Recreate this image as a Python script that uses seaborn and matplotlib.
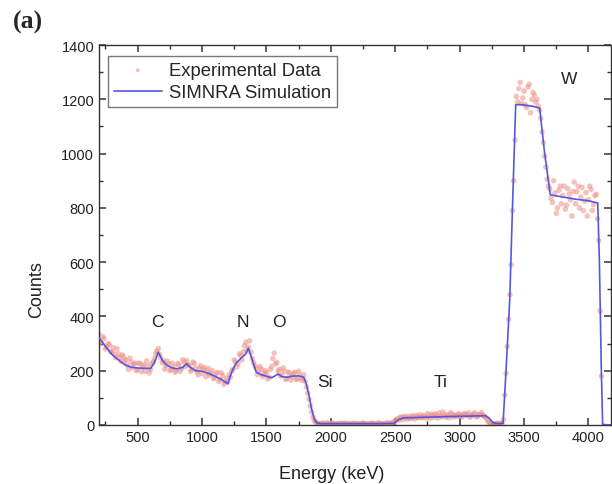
import numpy as np
import pandas as pd
import matplotlib
matplotlib.use("Agg")
import matplotlib.pyplot as plt
import seaborn as sns
from matplotlib.ticker import MultipleLocator

# ---------------- data ----------------
# experimental spectrum, even channels (200, 220, ... 4100 keV)
exp_energy_a = np.arange(200, 4101, 20)
exp_counts_a = [
    335, 300, 318, 286, 296,
    270, 262, 281, 248, 258,
    235, 220, 246, 212, 228,
    205, 226, 214, 198, 218,
    204, 232, 262, 282, 248,
    236, 218, 226, 205, 214,
    200, 222, 208, 232, 238,
    220, 205, 226, 196, 210,
    190, 212, 196, 184, 200,
    176, 194, 168, 182, 160,
    158, 175, 205, 232, 226,
    256, 270, 305, 286, 268,
    230, 210, 196, 206, 188,
    192, 176, 215, 265, 230,
    205, 185, 198, 172, 190,
    178, 194, 170, 185, 172,
    160, 118, 70, 30, 12,
    6, 4, 7, 3, 5,
    4, 6, 3, 5, 7,
    5, 3, 6, 4, 5,
    6, 4, 5, 3, 6,
    4, 7, 5, 3, 6,
    5, 4, 8, 6, 10,
    15, 24, 30, 20, 27,
    32, 24, 29, 35, 26,
    30, 36, 25, 33, 40,
    28, 35, 45, 30, 38,
    33, 27, 40, 36, 31,
    38, 30, 42, 35, 29,
    37, 44, 32, 39, 35,
    30, 14, 6, 4, 5,
    4, 6, 20, 190, 390,
    590, 900, 1210, 1240, 1185,
    1230, 1170, 1255, 1200, 1215,
    1200, 1160, 1080, 990, 905,
    870, 820, 855, 800, 880,
    845, 795, 870, 830, 860,
    815, 880, 840, 790, 856,
    830, 868, 812, 850, 680,
    180,
]
# experimental spectrum, odd channels (210, 230, ... 4090 keV)
exp_energy_b = np.arange(210, 4091, 20)
exp_counts_b = [
    305, 326, 280, 300, 270,
    285, 248, 262, 235, 252,
    240, 205, 232, 225, 200,
    228, 196, 222, 236, 192,
    225, 245, 272, 260, 230,
    205, 235, 200, 228, 195,
    226, 198, 240, 215, 222,
    198, 232, 208, 185, 218,
    205, 178, 208, 190, 170,
    188, 160, 192, 150, 172,
    185, 198, 240, 215, 262,
    240, 292, 275, 310, 245,
    218, 186, 215, 178, 200,
    170, 205, 245, 225, 198,
    180, 210, 168, 195, 165,
    190, 168, 198, 165, 185,
    140, 95, 48, 18, 8,
    3, 6, 4, 8, 2,
    6, 2, 5, 4, 3,
    7, 4, 2, 6, 3,
    3, 5, 7, 4, 2,
    6, 3, 4, 8, 5,
    3, 7, 5, 4, 8,
    20, 18, 27, 32, 22,
    25, 34, 22, 30, 38,
    27, 31, 42, 24, 35,
    41, 26, 33, 48, 29,
    38, 45, 29, 34, 42,
    31, 40, 36, 45, 33,
    42, 30, 38, 46, 33,
    24, 9, 5, 3, 6,
    5, 6, 110, 290, 480,
    790, 1050, 1190, 1262, 1205,
    1180, 1245, 1150, 1225, 1190,
    1175, 1130, 1040, 950, 880,
    835, 900, 780, 865, 815,
    880, 810, 850, 770, 895,
    860, 800, 875, 825, 770,
    880, 790, 845, 760, 420,
]

sim_energy = [200, 250, 300, 350, 400, 450, 500, 550, 600, 630, 660, 690, 720,
              760, 800, 850, 880, 910, 950, 1000, 1050, 1100, 1150, 1200, 1230,
              1260, 1300, 1340, 1360, 1390, 1420, 1460, 1500, 1540, 1570, 1590,
              1620, 1660, 1700, 1750, 1790, 1810, 1830, 1850, 1870, 1890, 1920,
              2000, 2200, 2400, 2490, 2520, 2560, 2700, 2900, 3100, 3200, 3230,
              3260, 3300, 3337, 3360, 3389, 3410, 3435, 3480, 3560, 3621, 3660,
              3704, 3800, 3900, 4000, 4072, 4085, 4100, 4110, 4175]
sim_counts = [322, 290, 260, 240, 222, 213, 210, 209, 208, 230, 268, 240, 222,
              212, 207, 212, 226, 212, 200, 198, 190, 180, 168, 152, 195,
              225, 245, 262, 283, 240, 195, 185, 180, 174, 182, 188,
              178, 176, 180, 181, 176, 150, 110, 60, 25, 8, 5,
              5, 5, 5, 6, 18, 26, 28, 31, 33, 34, 25,
              8, 5, 6, 200, 464, 800, 1180, 1180, 1175, 1168, 1000,
              848, 840, 832, 826, 818, 600, 200, 2, 0]

labels_text = ["C", "N", "O", "Si", "Ti", "W"]
labels_x = [650, 1317, 1596, 1953, 2853, 3846]
labels_y = [380, 380, 380, 162, 162, 1275]

exp_df = pd.DataFrame({
    "Energy": np.concatenate([exp_energy_a, exp_energy_b]),
    "Counts": exp_counts_a + exp_counts_b,
})
sim_df = pd.DataFrame({"Energy": sim_energy, "Counts": sim_counts})

# ---------------- style ----------------
sns.set_style("ticks")
plt.rcParams["font.family"] = ["Liberation Sans", "DejaVu Sans"]

fig = plt.figure(figsize=(6.12, 4.85), dpi=100)
ax = fig.add_axes([99 / 612, 1 - 426 / 485, (611 - 99) / 612, (426 - 46) / 485])

sns.scatterplot(data=exp_df, x="Energy", y="Counts", ax=ax, color="#eb8f84",
                s=16, alpha=0.55, edgecolor="none", label="Experimental Data",
                zorder=2)
sns.lineplot(data=sim_df, x="Energy", y="Counts", ax=ax, color="#5656e4",
             linewidth=1.2, label="SIMNRA Simulation", zorder=3)

ax.set_xlim(200, 4175)
ax.set_ylim(0, 1400)
ax.xaxis.set_major_locator(MultipleLocator(500))
ax.xaxis.set_minor_locator(MultipleLocator(250))
ax.yaxis.set_major_locator(MultipleLocator(200))
ax.yaxis.set_minor_locator(MultipleLocator(100))
ax.tick_params(which="both", direction="in", top=True, right=True,
               color="#333333", labelsize=10.5, labelcolor="#222222")
ax.tick_params(which="major", length=5, width=1.1)
ax.tick_params(which="minor", length=3, width=1.0)
for sp in ax.spines.values():
    sp.set_color("#333333")
    sp.set_linewidth(1.0)

ax.set_xlabel("Energy (keV)", fontsize=13, color="#222222")
ax.set_ylabel("Counts", fontsize=13, color="#222222")
ax.xaxis.set_label_coords(0.455, -0.105)
ax.yaxis.set_label_coords(-0.105, 0.358)

for t, x, y in zip(labels_text, labels_x, labels_y):
    ax.text(x, y, t, fontsize=12.5, ha="center", va="center", color="#222222")

leg = ax.legend(loc="upper left", bbox_to_anchor=(0.018, 0.97), fontsize=13.3,
                frameon=True, fancybox=False, edgecolor="#555555",
                borderpad=0.3, handlelength=2.6, handletextpad=0.4,
                labelspacing=0.3, borderaxespad=0.0, markerscale=0.7)
leg.get_frame().set_linewidth(1.0)

fig.text(0.045, 0.953, "(a)", fontsize=18.5, fontweight="bold",
         family="Liberation Serif", ha="center", va="center")

fig.savefig("out.png", dpi=100)
